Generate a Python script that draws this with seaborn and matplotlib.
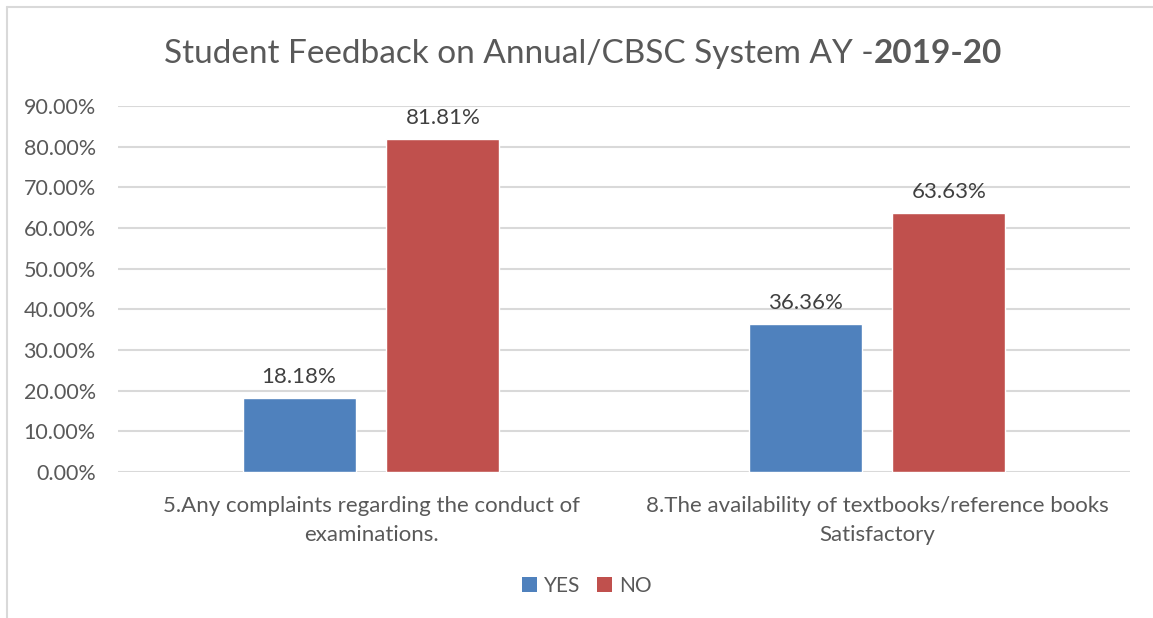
import pandas as pd
import matplotlib
matplotlib.use('Agg')
import matplotlib.pyplot as plt
from matplotlib.lines import Line2D
from matplotlib.patches import Patch
import seaborn as sns

# Chart data
questions = ['5.Any complaints regarding the conduct of\nexaminations.',
             '8.The availability of textbooks/reference books\nSatisfactory']
answers = ['YES', 'NO']
yes_values = [18.18, 36.36]
no_values = [81.81, 63.63]
y_ticks = [0, 10, 20, 30, 40, 50, 60, 70, 80, 90]

df = pd.DataFrame({
    'question': questions * 2,
    'answer': ['YES'] * len(questions) + ['NO'] * len(questions),
    'value': yes_values + no_values,
})

sns.set_theme(style='white')
plt.rcParams['font.family'] = ['Lato', 'DejaVu Sans']
grey = '#595959'
colors = {'YES': '#4F81BD', 'NO': '#C0504D'}

fig = plt.figure(figsize=(11.53, 6.18), dpi=100)
ax = fig.add_axes([118 / 1153, 1 - 472 / 618, 1012 / 1153, 366 / 618])

sns.barplot(data=df, x='question', y='value', hue='answer', hue_order=answers,
            palette=colors, width=0.569, gap=0.215, saturation=1,
            legend=False, ax=ax)

for c in ax.containers:
    ax.bar_label(c, fmt='%.2f%%', padding=8, fontsize=16, color='#404040')

ax.set_ylim(0, 90)
ax.set_xlim(-0.5, 1.5)
ax.set_yticks(y_ticks)
ax.set_yticklabels([f'{t:.2f}%' for t in y_ticks])
ax.yaxis.grid(True, color='#D9D9D9', linewidth=1.5)
ax.set_axisbelow(True)
for s in ax.spines.values():
    s.set_visible(False)
ax.tick_params(axis='y', length=0, pad=16, labelsize=15.5, labelcolor=grey)
ax.tick_params(axis='x', length=0, pad=17, labelsize=16, labelcolor=grey)
plt.setp(ax.get_xticklabels(), linespacing=1.6)
ax.set_xlabel('')
ax.set_ylabel('')

# legend at the bottom
handles = [Patch(facecolor=colors[a], edgecolor='none') for a in answers]
fig.legend(handles, answers, loc='center', bbox_to_anchor=(587 / 1153, 1 - 586 / 618),
           ncol=2, frameon=False, fontsize=15, labelcolor=grey,
           handlelength=0.7, handleheight=0.7, handletextpad=0.35, columnspacing=0.8)

# title: normal part + bold part on same baseline
title_y = 1 - 63 / 618
t1 = fig.text(0, title_y, 'Student Feedback on Annual/CBSC System AY -',
              fontsize=24, color=grey, va='baseline', ha='left')
t2 = fig.text(0, title_y, '2019-20', fontsize=24, color=grey,
              fontweight='bold', va='baseline', ha='left')
fig.canvas.draw()
r = fig.canvas.get_renderer()
w1 = t1.get_window_extent(r).width
w2 = t2.get_window_extent(r).width
x0 = (583 - (w1 + w2) / 2) / 1153
t1.set_x(x0)
t2.set_x(x0 + w1 / 1153)

# chart border (left and top edges visible)
fig.add_artist(Line2D([6.5 / 1153, 6.5 / 1153], [0, 1 - 6.5 / 618],
                      transform=fig.transFigure, color='#D9D9D9', linewidth=1.5))
fig.add_artist(Line2D([6.5 / 1153, 1], [1 - 6.5 / 618, 1 - 6.5 / 618],
                      transform=fig.transFigure, color='#D9D9D9', linewidth=1.5))

fig.savefig('out.png', dpi=100)
